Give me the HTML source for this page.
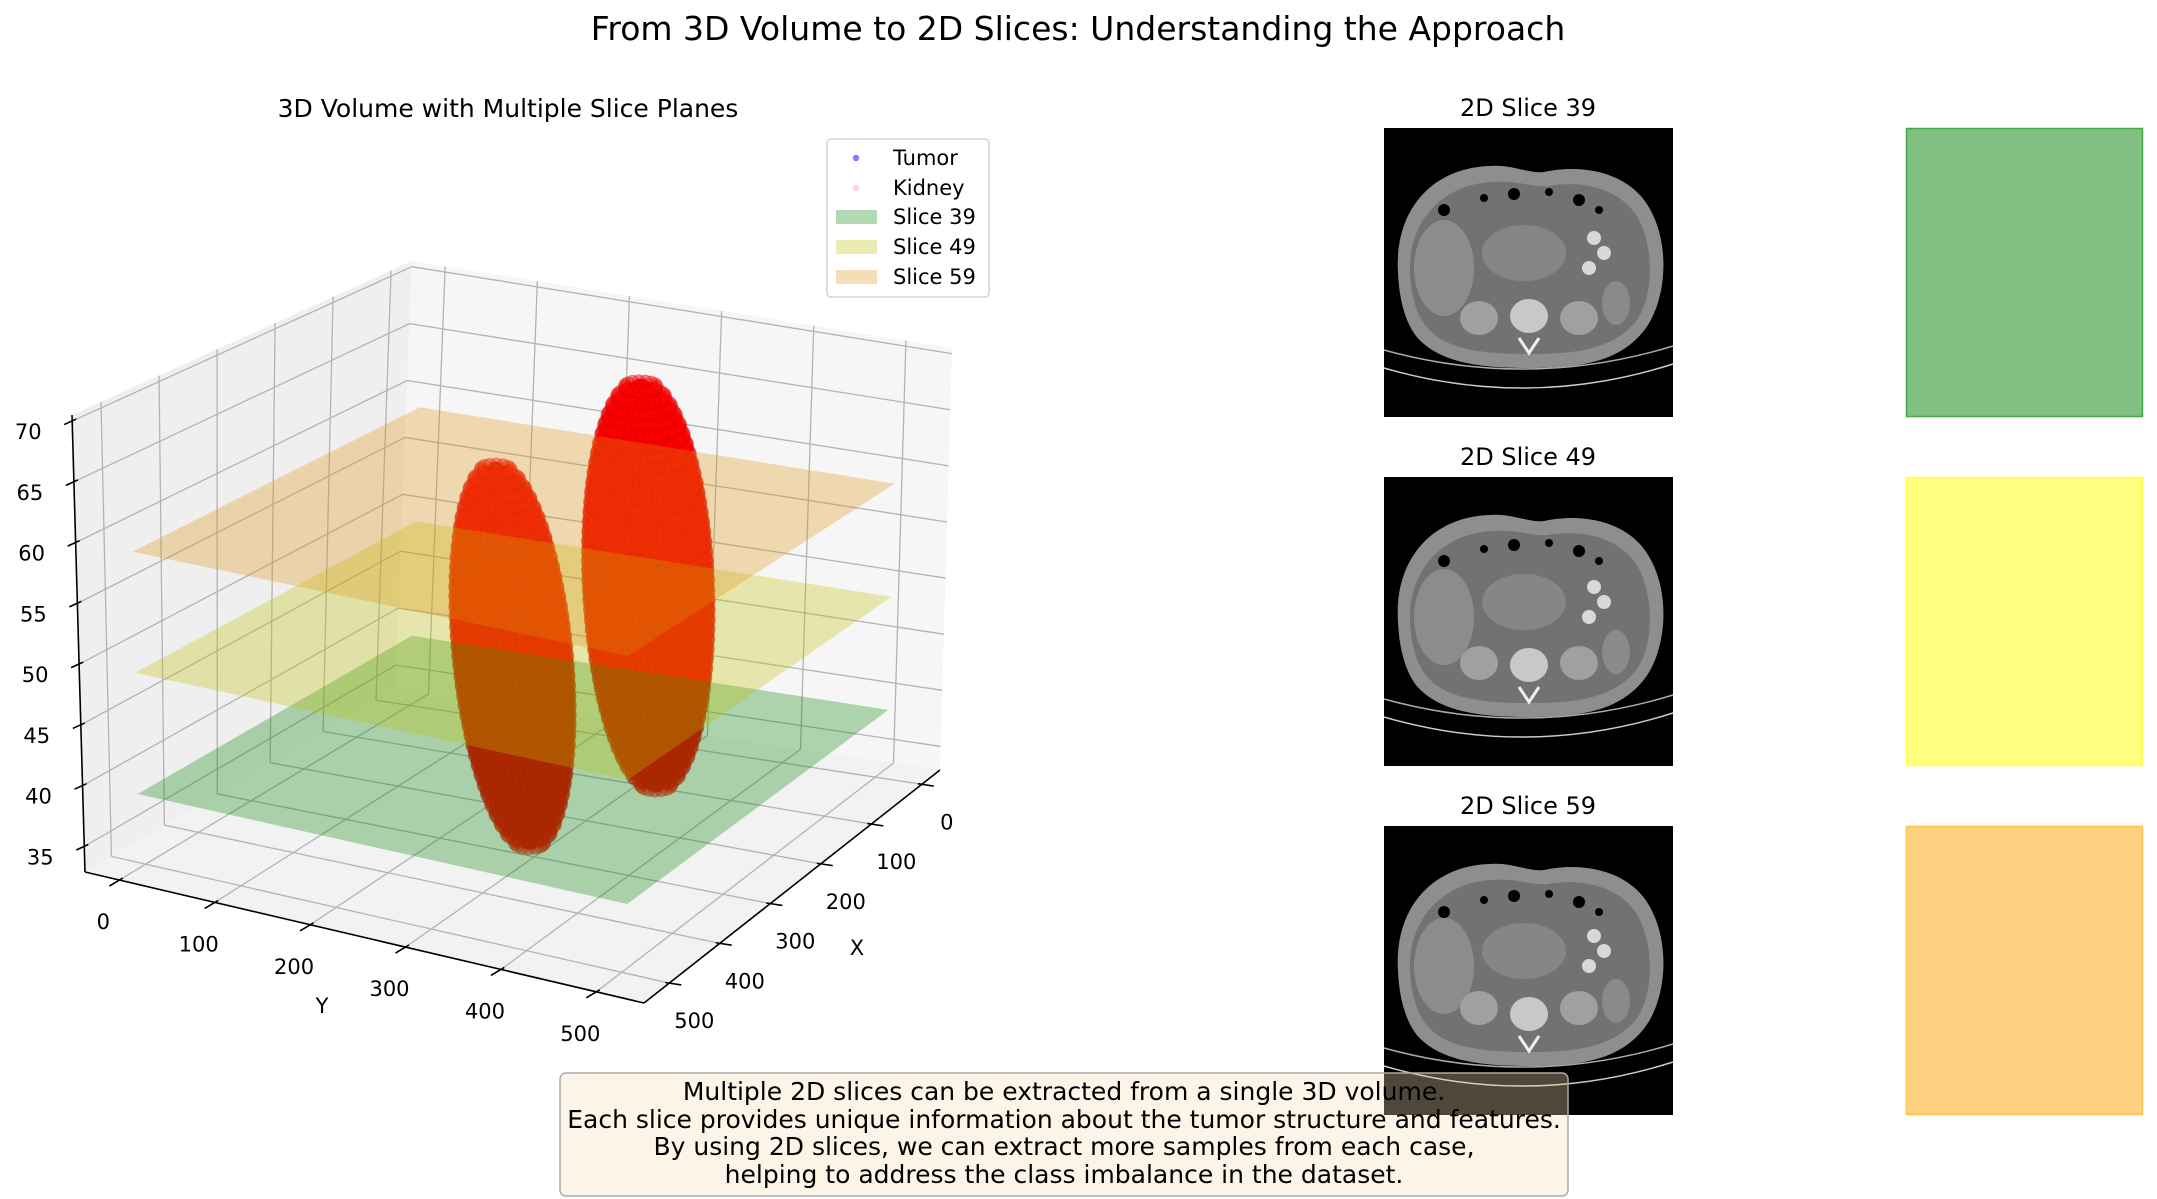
<!DOCTYPE html>
<html><head><meta charset="utf-8"><title>From 3D Volume to 2D Slices</title>
<style>
html,body{margin:0;padding:0;background:#fff;}
svg{display:block;font-family:"DejaVu Sans","Liberation Sans",sans-serif;}
</style></head>
<body>
<svg id="fig" xmlns="http://www.w3.org/2000/svg" width="2157" height="1199" viewBox="0 0 2157 1199">
<rect x="0" y="0" width="2157" height="1199" fill="#fff"/>
<text x="1078" y="40" font-size="33" text-anchor="middle" fill="#000">From 3D Volume to 2D Slices: Understanding the Approach</text>
<text x="508" y="117" font-size="25" text-anchor="middle" fill="#000">3D Volume with Multiple Slice Planes</text>
<g id="plot3d"></g>
<g id="right"></g>
</svg>
<script>
// ---- data ----
const sliceIndices = [39, 49, 59];
const sliceLabels = ["Slice 39", "Slice 49", "Slice 59"];
const xTicks = [0, 100, 200, 300, 400, 500];
const yTicks = [0, 100, 200, 300, 400, 500];
const zTicks = [35, 40, 45, 50, 55, 60, 65, 70];
const tumorCenterX = [380, 350];
const tumorCenterY = [320, 445];
const tumorCenterZ = [52.3, 59.3];
const tumorRadiusXY = [50, 55];
const tumorRadiusZ = [15.8, 17];
const tumorShear = [-1.2, -0.6];
const planeExtent = [0, 512];

const NS = "http://www.w3.org/2000/svg";
const XMIN=-36, XMAX=550, YMIN=-36, YMAX=550, ZMIN=32.9, ZMAX=70.5;
const D=[395,689], A=[85,872], C=[940,770], B=[644,1003];
const Dt=[412,261], At=[72,415], Ct=[952,348], Bt=[646,533];
function bil(p00,p10,p01,p11,u,v){
  return [(1-u)*(1-v)*p00[0]+u*(1-v)*p10[0]+(1-u)*v*p01[0]+u*v*p11[0],
          (1-u)*(1-v)*p00[1]+u*(1-v)*p10[1]+(1-u)*v*p01[1]+u*v*p11[1]];
}
function P(x,y,z){
  const u=(x-XMIN)/(XMAX-XMIN), v=(y-YMIN)/(YMAX-YMIN), w=(z-ZMIN)/(ZMAX-ZMIN);
  const b=bil(D,A,C,B,u,v), t=bil(Dt,At,Ct,Bt,u,v);
  return [b[0]+(t[0]-b[0])*w, b[1]+(t[1]-b[1])*w];
}
function mk(tag,attrs,parent){const e=document.createElementNS(NS,tag);for(const k in attrs)e.setAttribute(k,attrs[k]);parent.appendChild(e);return e;}
function poly(pts){return pts.map(p=>p[0].toFixed(1)+","+p[1].toFixed(1)).join(" ");}

const g=document.getElementById("plot3d");
let e;
e=mk("polygon",{points:poly([P(XMIN,YMIN,ZMIN),P(XMAX,YMIN,ZMIN),P(XMAX,YMIN,ZMAX),P(XMIN,YMIN,ZMAX)]),fill:"#efefef"},g);


e=mk("polygon",{points:poly([P(XMIN,YMIN,ZMIN),P(XMIN,YMAX,ZMIN),P(XMIN,YMAX,ZMAX),P(XMIN,YMIN,ZMAX)]),fill:"#f6f6f6"},g);


e=mk("polygon",{points:poly([P(XMIN,YMIN,ZMIN),P(XMAX,YMIN,ZMIN),P(XMAX,YMAX,ZMIN),P(XMIN,YMAX,ZMIN)]),fill:"#f2f2f2"},g);


const grid=mk("g",{stroke:"#b3b3b3","stroke-width":"1.3",fill:"none"},g);


function gl(p,q){const l=mk("line",{x1:p[0],y1:p[1],x2:q[0],y2:q[1]},grid);

}
xTicks.forEach(x=>{gl(P(x,YMIN,ZMIN),P(x,YMAX,ZMIN));gl(P(x,YMIN,ZMIN),P(x,YMIN,ZMAX));});
yTicks.forEach(y=>{gl(P(XMIN,y,ZMIN),P(XMAX,y,ZMIN));gl(P(XMIN,y,ZMIN),P(XMIN,y,ZMAX));});
zTicks.forEach(z=>{gl(P(XMIN,YMIN,z),P(XMAX,YMIN,z));gl(P(XMIN,YMIN,z),P(XMIN,YMAX,z));});

const pts=[];
for(let k=0;k<tumorCenterX.length;k++){
  const cz=tumorCenterZ[k], rz=tumorRadiusZ[k];
  for(let z=cz-rz+0.6; z<=cz+rz-0.5; z+=0.8){
    const t=(z-cz)/rz; const r=tumorRadiusXY[k]*Math.sqrt(Math.max(0,1-t*t));
    const cy=tumorCenterY[k]+tumorShear[k]*(z-cz), cx=tumorCenterX[k];
    const n=Math.max(8,Math.round(2*Math.PI*r/6));
    for(let i=0;i<n;i++){const a=2*Math.PI*i/n;pts.push([cx+r*Math.cos(a),cy+r*Math.sin(a),z]);}
    for(let rr=r-12; rr>0; rr-=12){const m=Math.max(6,Math.round(2*Math.PI*rr/10));
      for(let i=0;i<m;i++){const a=2*Math.PI*i/m;pts.push([cx+rr*Math.cos(a),cy+rr*Math.sin(a),z]);}}
  }
}
const planeColors=["rgba(0,128,0,0.3)","rgba(191,191,0,0.3)","rgba(222,145,9,0.3)"];
const planeNames=["slice-plane-39","slice-plane-49","slice-plane-59"];
const gg=mk("g",{fill:"rgba(255,0,0,0.45)",stroke:"rgba(190,0,0,0.3)","stroke-width":"1"},g);


pts.slice().sort((a,b)=>(a[0]+a[1])-(b[0]+b[1])).forEach(p=>{
  const s=P(p[0],p[1],p[2]);
  const c=mk("circle",{cx:s[0].toFixed(1),cy:s[1].toFixed(1),r:"6.5"},gg);
  
  
});
sliceIndices.forEach((z,i)=>{
  const a=planeExtent[0], b=planeExtent[1];
  const pl=mk("polygon",{points:poly([P(a,a,z),P(b,a,z),P(b,b,z),P(a,b,z)]),fill:planeColors[i]},g);
  
  
});

const ax=mk("g",{stroke:"#000","stroke-width":"1.6",fill:"none"},g);


function al(p,q,name){const l=mk("line",{x1:p[0],y1:p[1],x2:q[0],y2:q[1]},ax);

}
al(A,At,'z-axis-line'); al(A,B,'y-axis-line'); al(B,C,'x-axis-line');
const labels=mk("g",{"font-size":"21",fill:"#000","text-anchor":"middle"},g);


function lerp(p,q,t){return [p[0]+(q[0]-p[0])*t,p[1]+(q[1]-p[1])*t];}
yTicks.forEach(y=>{
  const p=lerp(A,B,(y-YMIN)/(YMAX-YMIN));
  al([p[0]+3.4,p[1]-2],[p[0]-10,p[1]+6],'y-tick');
  const t=mk("text",{x:(p[0]-16).toFixed(1),y:(p[1]+49).toFixed(1)},labels);t.textContent=y;
  
  
});
xTicks.forEach(x=>{
  const p=lerp(C,B,(x-XMIN)/(XMAX-XMIN));
  al([p[0]-4,p[1]-0.6],[p[0]+12,p[1]+1.8],'x-tick');
  const t=mk("text",{x:(p[0]+25).toFixed(1),y:(p[1]+45).toFixed(1)},labels);t.textContent=x;
  
  
});
zTicks.forEach(z=>{
  const p=lerp(A,At,(z-ZMIN)/(ZMAX-ZMIN));
  al([p[0]+4,p[1]-2],[p[0]-8,p[1]+3.5],'z-tick');
  const t=mk("text",{x:(p[0]-44).toFixed(1),y:(p[1]+18).toFixed(1)},labels);t.textContent=z;
  
  
});
e=mk("text",{x:"322",y:"1013"},labels);e.textContent="Y";


e=mk("text",{x:"857",y:"955"},labels);e.textContent="X";



const lg=mk("g",{},g);


mk("rect",{x:"827",y:"139",width:"162",height:"158",rx:"4",fill:"#fff","fill-opacity":"0.85",stroke:"#cccccc","stroke-width":"1.3"},lg);
const legRows=[158,188,217,247,277];
const legText=["Tumor","Kidney"].concat(sliceLabels);
legRows.forEach((y,i)=>{
  let m;
  if(i===0){m=mk("circle",{cx:"856",cy:y,r:"3.2",fill:"rgba(0,0,255,0.5)"},lg);}
  else if(i===1){m=mk("circle",{cx:"856",cy:y,r:"3.2",fill:"rgba(255,150,160,0.4)"},lg);}
  else {m=mk("rect",{x:"836",y:y-7,width:"41",height:"14",fill:planeColors[i-2]},lg);}
  
  
  const t=mk("text",{x:"893",y:y+7,"font-size":"21",fill:"#000"},lg);t.textContent=legText[i];
  
  
});

const R=document.getElementById("right");
const rowTop=[128,477,826];
const boxFill=["#80c080","#ffff80","#ffd080"];
const boxStroke=["#47a447","#ffff4d","#ffc24d"];
function ct(parent,x0,y0,s,variant){
  const W=289;
  const cg=mk("g",{transform:`translate(${x0},${y0})`},parent);
  
  
  mk("rect",{x:0,y:0,width:W,height:W,fill:"#000"},cg);
  mk("path",{d:"M0,222 Q145,262 289,218",stroke:"#aaa","stroke-width":"1.5",fill:"none"},cg);
  mk("path",{d:"M0,240 Q145,282 289,236",stroke:"#ccc","stroke-width":"1.5",fill:"none"},cg);
  mk("path",{d:"M14,145 C10,80 50,40 105,38 C128,36 145,46 160,44 C195,36 248,42 268,85 C288,125 280,180 258,205 C232,236 190,240 145,240 C100,240 55,236 32,208 C20,192 15,168 14,145 Z",fill:"#8e8e8e"},cg);
  mk("path",{d:"M26,145 C24,90 62,56 108,54 C133,52 150,60 165,58 C197,52 240,60 256,94 C272,128 268,178 248,198 C224,222 190,226 145,226 C100,226 60,222 42,198 C32,186 27,166 26,145 Z",fill:"#727272"},cg);
  mk("ellipse",{cx:60,cy:140,rx:30,ry:48,fill:"#8c8c8c"},cg);
  mk("ellipse",{cx:95,cy:190-variant*4,rx:19,ry:17,fill:"#a0a0a0"},cg);
  mk("ellipse",{cx:195,cy:190-variant*4,rx:19,ry:17,fill:"#a0a0a0"},cg);
  mk("ellipse",{cx:145,cy:188,rx:19,ry:17,fill:"#c8c8c8"},cg);
  mk("path",{d:"M135,210 L145,225 L155,210",stroke:"#eee","stroke-width":"3",fill:"none"},cg);
  [[100,70],[130,66],[165,64],[195,72],[215,82],[60,82]].forEach((p,i)=>{mk("circle",{cx:p[0],cy:p[1]+variant*2,r:4+(i%2)*2,fill:"#000"},cg);});
  [[210,110],[220,125],[205,140]].forEach(p=>{mk("circle",{cx:p[0],cy:p[1],r:7,fill:"#d8d8d8"},cg);});
  mk("ellipse",{cx:140,cy:125,rx:42,ry:28,fill:"#868686"},cg);
  mk("ellipse",{cx:232,cy:175,rx:14,ry:22,fill:"#8a8a8a"},cg);
}
rowTop.forEach((y,i)=>{
  const t=mk("text",{x:"1528",y:y-12,"font-size":"24","text-anchor":"middle",fill:"#000"},R);
  t.textContent="2D Slice "+sliceIndices[i];
  
  
  ct(R,1384,y,289,i);
  const b=mk("rect",{x:"1906.5",y:y+0.5,width:"236",height:"288",fill:boxFill[i],stroke:boxStroke[i],"stroke-width":"1.5"},R);
  
  
});
const tb=mk("g",{},document.getElementById("fig"));


mk("rect",{x:"560",y:"1073",width:"1008",height:"123",rx:"6",fill:"rgba(245,222,179,0.32)",stroke:"#aaaaaa","stroke-width":"1.5"},tb);
const lines=["Multiple 2D slices can be extracted from a single 3D volume.","Each slice provides unique information about the tumor structure and features.","By using 2D slices, we can extract more samples from each case,","helping to address the class imbalance in the dataset."];
[1100,1128,1155,1183].forEach((y,i)=>{
  const t=mk("text",{x:"1064",y:y,"font-size":"25","text-anchor":"middle",fill:"#000"},tb);
  t.textContent=lines[i];
  
  
});
</script>
</body></html>
